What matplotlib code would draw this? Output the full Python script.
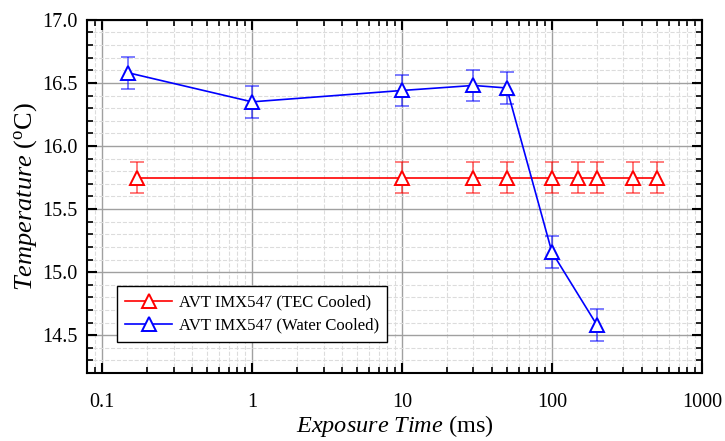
import matplotlib
matplotlib.use("Agg")
import matplotlib.pyplot as plt
from matplotlib.ticker import LogLocator, MultipleLocator, FixedLocator, NullFormatter, FixedFormatter

plt.rcParams['font.family'] = ['Liberation Serif', 'DejaVu Serif']
plt.rcParams['mathtext.fontset'] = 'custom'
plt.rcParams['mathtext.rm'] = 'Liberation Serif'
plt.rcParams['mathtext.it'] = 'Liberation Serif:italic'

# TEC cooled camera
tec_x = [0.17, 10, 30, 50, 100, 150, 200, 350, 500]
tec_y = [15.75, 15.75, 15.75, 15.75, 15.75, 15.75, 15.75, 15.75, 15.75]
tec_err = [0.125] * 9

# water cooled camera
water_x = [0.15, 1, 10, 30, 50, 100, 200]
water_y = [16.58, 16.35, 16.44, 16.48, 16.46, 15.16, 14.58]
water_err = [0.125] * 7

fig = plt.figure(figsize=(7.25, 4.41), dpi=100)
ax = fig.add_axes([0.12, 0.154, 0.848, 0.801])

for x, y, err, c, lab in [(tec_x, tec_y, tec_err, 'red', 'AVT IMX547 (TEC Cooled)'),
                          (water_x, water_y, water_err, 'blue', 'AVT IMX547 (Water Cooled)')]:
    ax.errorbar(x, y, yerr=err, fmt='none', ecolor=c, alpha=0.6, elinewidth=1.2,
                capsize=5, capthick=1.2, zorder=3)
    ax.plot(x, y, color=c, lw=1.2, marker='^', markersize=10, markerfacecolor='white',
            markeredgecolor=c, markeredgewidth=1.4, label=lab, zorder=4)

ax.set_xscale('log')
ax.set_xlim(0.0794, 1000)
ax.set_ylim(14.2, 17.0)

ax.xaxis.set_major_locator(FixedLocator([0.1, 1, 10, 100, 1000]))
ax.xaxis.set_major_formatter(FixedFormatter(['0.1', '1', '10', '100', '1000']))
ax.xaxis.set_minor_locator(LogLocator(base=10, subs=range(2, 10)))
ax.xaxis.set_minor_formatter(NullFormatter())
ax.yaxis.set_major_locator(MultipleLocator(0.5))
ax.yaxis.set_minor_locator(MultipleLocator(0.1))
ax.yaxis.set_major_formatter(plt.FormatStrFormatter('%.1f'))

ax.grid(which='major', color='#a0a0a0', lw=1.0, ls='-', zorder=0)
ax.grid(which='minor', color='#dcdcdc', lw=0.8, ls='--', zorder=0)

ax.tick_params(which='both', direction='in', top=True, right=True, labelsize=14.5)
ax.tick_params(which='major', length=7, width=1.5)
ax.tick_params(which='minor', length=4, width=1.2)
ax.tick_params(axis='x', pad=14)
ax.tick_params(axis='y', pad=7)
for s in ax.spines.values():
    s.set_linewidth(1.5)

ax.set_xlabel(r'$\it{Exposure\ Time}$ (ms)', fontsize=17.5, labelpad=1)
ax.set_ylabel(r'$\it{Temperature}$ ($^{\rm o}$C)', fontsize=19, labelpad=2)

leg = ax.legend(loc='lower left', bbox_to_anchor=(0.035, 0.065), fontsize=12,
                frameon=True, fancybox=False, edgecolor='black', framealpha=1,
                handlelength=2.8, borderpad=0.5, labelspacing=0.4, handletextpad=0.4)
leg.get_frame().set_linewidth(1.0)

fig.savefig('out.png', dpi=100)
